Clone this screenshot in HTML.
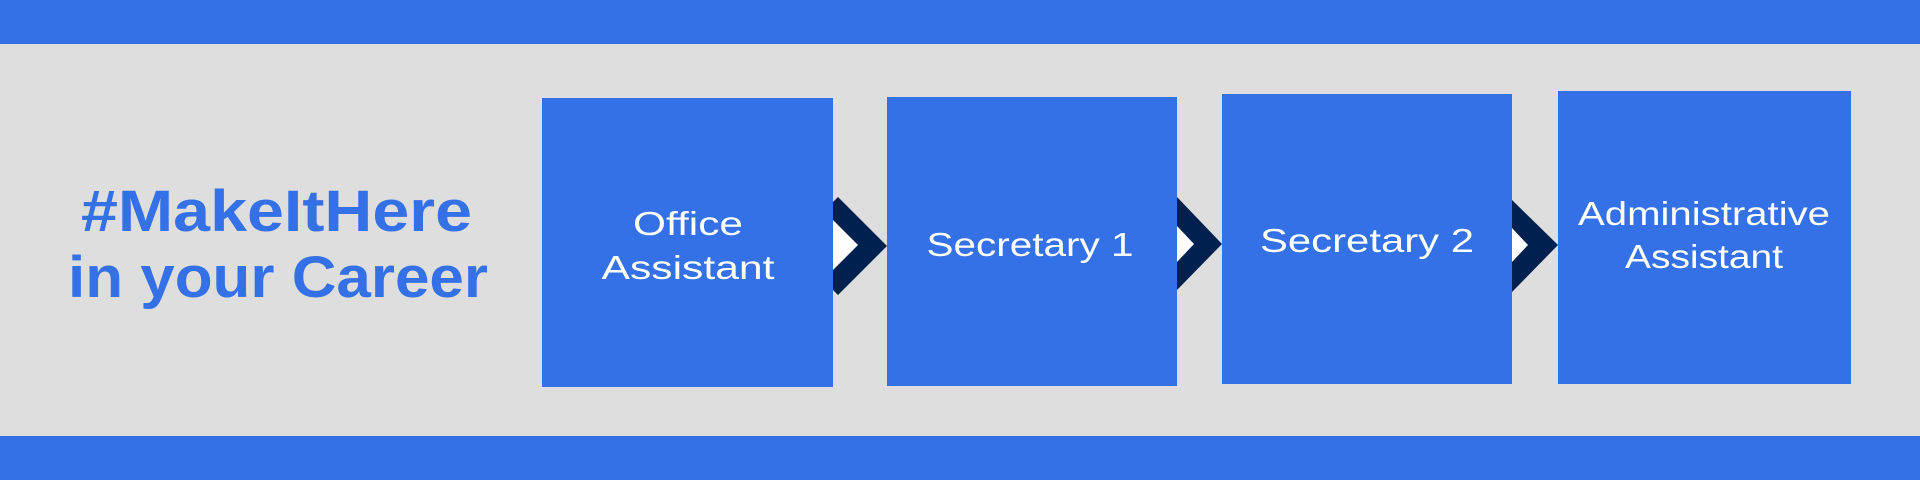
<!DOCTYPE html>
<html><head><meta charset="utf-8"><style>
html,body{margin:0;padding:0;width:1920px;height:480px;overflow:hidden;background:#dedede}
svg{display:block}
text{font-family:"Liberation Sans",sans-serif;fill:#fff}
</style></head><body>
<svg width="1920" height="480" viewBox="0 0 1920 480" xmlns="http://www.w3.org/2000/svg">
<rect x="0" y="0" width="1920" height="480" fill="#dedede"/>
<rect x="0" y="0" width="1920" height="44" fill="#3470e6"/>
<rect x="0" y="436" width="1920" height="44" fill="#3470e6"/>
<text x="81" y="231" font-size="58" font-weight="bold" style="fill:#3470e6" textLength="391" lengthAdjust="spacingAndGlyphs">#MakeItHere</text>
<text x="68" y="297" font-size="58" font-weight="bold" style="fill:#3470e6" textLength="420" lengthAdjust="spacingAndGlyphs">in your Career</text>
<!-- chevrons -->
<polygon points="838,197 887,246 838,295 833,290 833,202" fill="#00204f"/>
<polygon points="833,220 858,245 833,270" fill="#fff"/>
<polygon points="1177,197 1222,244 1177,290" fill="#00204f"/>
<polygon points="1177,226 1194,244 1177,262" fill="#fff"/>
<polygon points="1512,200 1558,245 1512,292" fill="#00204f"/>
<polygon points="1512,228 1528,245 1512,262" fill="#fff"/>
<!-- boxes -->
<rect x="542" y="98" width="291" height="289" fill="#3470e6"/>
<rect x="887" y="97" width="290" height="289" fill="#3470e6"/>
<rect x="1222" y="94" width="290" height="290" fill="#3470e6"/>
<rect x="1558" y="91" width="293" height="293" fill="#3470e6"/>
<text x="688" y="235" font-size="33" text-anchor="middle" textLength="110" lengthAdjust="spacingAndGlyphs">Office</text>
<text x="688" y="279" font-size="33" text-anchor="middle" textLength="173" lengthAdjust="spacingAndGlyphs">Assistant</text>
<text x="1030" y="256" font-size="33" text-anchor="middle" textLength="207" lengthAdjust="spacingAndGlyphs">Secretary 1</text>
<text x="1367" y="252" font-size="33" text-anchor="middle" textLength="214" lengthAdjust="spacingAndGlyphs">Secretary 2</text>
<text x="1704" y="225" font-size="33" text-anchor="middle" textLength="252" lengthAdjust="spacingAndGlyphs">Administrative</text>
<text x="1704" y="268" font-size="33" text-anchor="middle" textLength="158" lengthAdjust="spacingAndGlyphs">Assistant</text>
</svg>
</body></html>
